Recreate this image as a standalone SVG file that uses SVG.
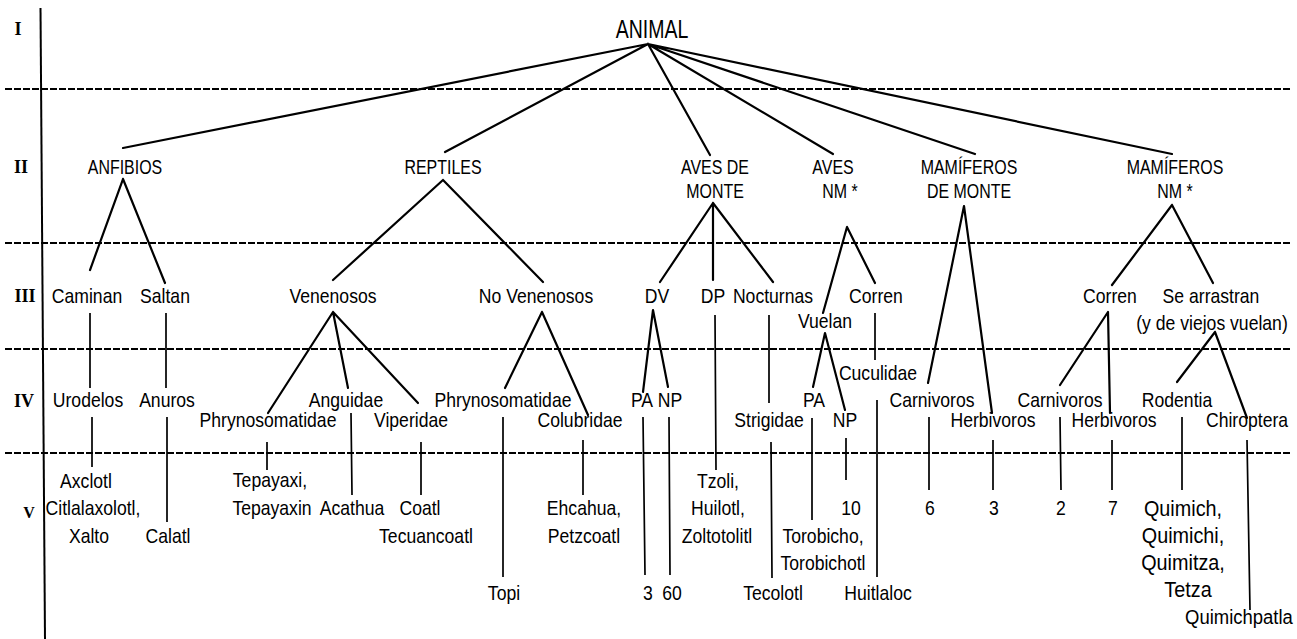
<svg xmlns="http://www.w3.org/2000/svg" width="1297" height="639" viewBox="0 0 1297 639">
<style>
text{font-family:"Liberation Sans",Arial,sans-serif;font-size:20px;fill:#000;text-anchor:middle;transform:scaleX(0.88);transform-box:fill-box;transform-origin:center}
text.cap{font-size:21px;transform:scaleX(0.76)}
text.big{font-size:22.5px}
text.num{font-family:"Liberation Serif","Times New Roman",serif;font-weight:bold;font-size:18px;transform:none}
.dash{stroke:#000;stroke-width:2;stroke-dasharray:7 2;fill:none}
.ln{stroke:#000;stroke-width:2.2;fill:none;stroke-linecap:round}
.vl{stroke:#000;stroke-width:1.7;fill:none}
</style>
<rect width="1297" height="639" fill="#fff"/>
<g id="levels">
<line x1="40.5" y1="8" x2="45" y2="639" stroke="#000" stroke-width="2"/>
<line class="dash" x1="5" y1="89" x2="1290" y2="89"/>
<line class="dash" x1="5" y1="243" x2="1290" y2="243"/>
<line class="dash" x1="5" y1="349" x2="1290" y2="349"/>
<line class="dash" x1="5" y1="453" x2="1290" y2="453"/>
<text class="num" x="18" y="35">I</text>
<text class="num" x="21" y="173">II</text>
<text class="num" x="25" y="302">III</text>
<text class="num" x="24" y="407">IV</text>
<text class="num" x="29" y="518" style="font-size:16px">V</text>
</g>
<g id="connectors">
<path class="ln" d="M648,44L123,148M648,44L445,152M648,44L710,155M648,44L833,154M648,44L975,154M648,44L1172,154"/>
<path class="ln" d="M123,179L90,270M123,179L165,283"/>
<path class="vl" d="M90,313V388M166,313V388M92,417V467M167,417V522"/>
<path class="ln" d="M443,180L333,280M443,180L543,282"/>
<path class="ln" d="M333,312L268,413M333,312L348,388M333,312L418,403"/>
<path class="vl" d="M267,442V470M351,413L352,495M421,442V495"/>
<path class="ln" d="M542,312L505,388M542,312L588,415"/>
<path class="vl" d="M503,417V577M583,440V495"/>
<path class="ln" d="M713,203L660,282M713,203L713,280M713,203L773,282"/>
<path class="ln" d="M653,310L643,392M653,310L668,387"/>
<path class="vl" d="M643,417L645,575M669,417L670,575M715,315L716,470M769,315V403M771,442L772,578"/>
<path class="ln" d="M847,227L823,313M847,227L875,283"/>
<path class="ln" d="M825,333L813,387M825,333L845,410"/>
<path class="vl" d="M812,418V520M846,438V480M875,313V360M877,400V577"/>
<path class="ln" d="M964,206L928,383M964,206L992,413"/>
<path class="vl" d="M929,417V490M993,440V490"/>
<path class="ln" d="M1172,205L1112,285M1172,205L1213,283"/>
<path class="ln" d="M1108,312L1060,385M1108,312L1110,413"/>
<path class="vl" d="M1060,417L1061,490M1112,440V490"/>
<path class="ln" d="M1215,332L1177,382M1215,332L1247,418"/>
<path class="vl" d="M1182,417V490M1247,440L1250,610"/>
</g>
<g id="n-animal"><text class="cap" x="652" y="38" style="font-size:25px;transform:scaleX(0.78)">ANIMAL</text></g>
<g id="n-anfibios"><text class="cap" x="125" y="174">ANFIBIOS</text></g>
<g id="n-reptiles"><text class="cap" x="443" y="174">REPTILES</text></g>
<g id="n-aves-monte"><text class="cap" x="715" y="174">AVES DE</text><text class="cap" x="715" y="198">MONTE</text></g>
<g id="n-aves-nm"><text class="cap" x="833" y="174">AVES</text><text class="cap" x="840" y="198">NM *</text></g>
<g id="n-mam-monte"><text class="cap" x="969" y="174">MAMÍFEROS</text><text class="cap" x="969" y="198">DE MONTE</text></g>
<g id="n-mam-nm"><text class="cap" x="1175" y="174">MAMÍFEROS</text><text class="cap" x="1175" y="198">NM *</text></g>
<g id="n-caminan"><text x="87" y="303">Caminan</text></g>
<g id="n-saltan"><text x="165" y="303">Saltan</text></g>
<g id="n-venenosos"><text x="333" y="303">Venenosos</text></g>
<g id="n-noven"><text x="536" y="303">No Venenosos</text></g>
<g id="n-dv"><text x="657" y="303">DV</text></g>
<g id="n-dp"><text x="713" y="303">DP</text></g>
<g id="n-nocturnas"><text x="773" y="303">Nocturnas</text></g>
<g id="n-corren1"><text x="876" y="303">Corren</text></g>
<g id="n-vuelan"><text x="825" y="328">Vuelan</text></g>
<g id="n-corren2"><text x="1110" y="303">Corren</text></g>
<g id="n-searr"><text x="1211" y="303">Se arrastran</text><text x="1212" y="330">(y de viejos vuelan)</text></g>
<g id="n-urodelos"><text x="88" y="407">Urodelos</text></g>
<g id="n-anuros"><text x="167" y="407">Anuros</text></g>
<g id="n-phryn1"><text x="268" y="427">Phrynosomatidae</text></g>
<g id="n-anguidae"><text x="346" y="407">Anguidae</text></g>
<g id="n-viperidae"><text x="411" y="427">Viperidae</text></g>
<g id="n-phryn2"><text x="503" y="407">Phrynosomatidae</text></g>
<g id="n-colubridae"><text x="580" y="427">Colubridae</text></g>
<g id="n-pa1"><text x="642" y="407">PA</text></g>
<g id="n-np1"><text x="670" y="407">NP</text></g>
<g id="n-strigidae"><text x="769" y="427">Strigidae</text></g>
<g id="n-pa2"><text x="814" y="407">PA</text></g>
<g id="n-np2"><text x="845" y="427">NP</text></g>
<g id="n-cuculidae"><text x="878" y="380">Cuculidae</text></g>
<g id="n-carn1"><text x="932" y="407">Carnivoros</text></g>
<g id="n-herb1"><text x="993" y="427">Herbivoros</text></g>
<g id="n-carn2"><text x="1060" y="407">Carnivoros</text></g>
<g id="n-herb2"><text x="1114" y="427">Herbivoros</text></g>
<g id="n-rodentia"><text x="1177" y="407">Rodentia</text></g>
<g id="n-chiroptera"><text x="1247" y="427">Chiroptera</text></g>
<g id="n-axclotl"><text x="86" y="488">Axclotl</text><text x="93" y="515">Citlalaxolotl,</text><text x="89" y="543">Xalto</text></g>
<g id="n-calatl"><text x="168" y="543">Calatl</text></g>
<g id="n-tepayaxi"><text x="270" y="487">Tepayaxi,</text><text x="272" y="515">Tepayaxin</text></g>
<g id="n-acathua"><text x="352" y="515">Acathua</text></g>
<g id="n-coatl"><text x="420" y="515">Coatl</text><text x="426" y="543">Tecuancoatl</text></g>
<g id="n-topi"><text x="504" y="600">Topi</text></g>
<g id="n-ehcahua"><text x="584" y="515">Ehcahua,</text><text x="584" y="543">Petzcoatl</text></g>
<g id="n-3a"><text x="648" y="600">3</text></g>
<g id="n-60"><text x="672" y="600">60</text></g>
<g id="n-tzoli"><text x="718" y="488">Tzoli,</text><text x="718" y="515">Huilotl,</text><text x="717" y="543">Zoltotolitl</text></g>
<g id="n-tecolotl"><text x="773" y="600">Tecolotl</text></g>
<g id="n-10"><text x="851" y="515">10</text></g>
<g id="n-torobicho"><text x="823" y="543">Torobicho,</text><text x="823" y="570">Torobichotl</text></g>
<g id="n-huitlaloc"><text x="878" y="600">Huitlaloc</text></g>
<g id="n-6"><text x="930" y="515">6</text></g>
<g id="n-3b"><text x="994" y="515">3</text></g>
<g id="n-2"><text x="1061" y="515">2</text></g>
<g id="n-7"><text x="1113" y="515">7</text></g>
<g id="n-quimich"><text class="big" x="1183" y="516">Quimich,</text><text class="big" x="1183" y="543">Quimichi,</text><text class="big" x="1183" y="570">Quimitza,</text><text class="big" x="1188" y="597">Tetza</text></g>
<g id="n-quimichpatla"><text x="1239" y="624" style="font-size:21px">Quimichpatla</text></g>
</svg>
